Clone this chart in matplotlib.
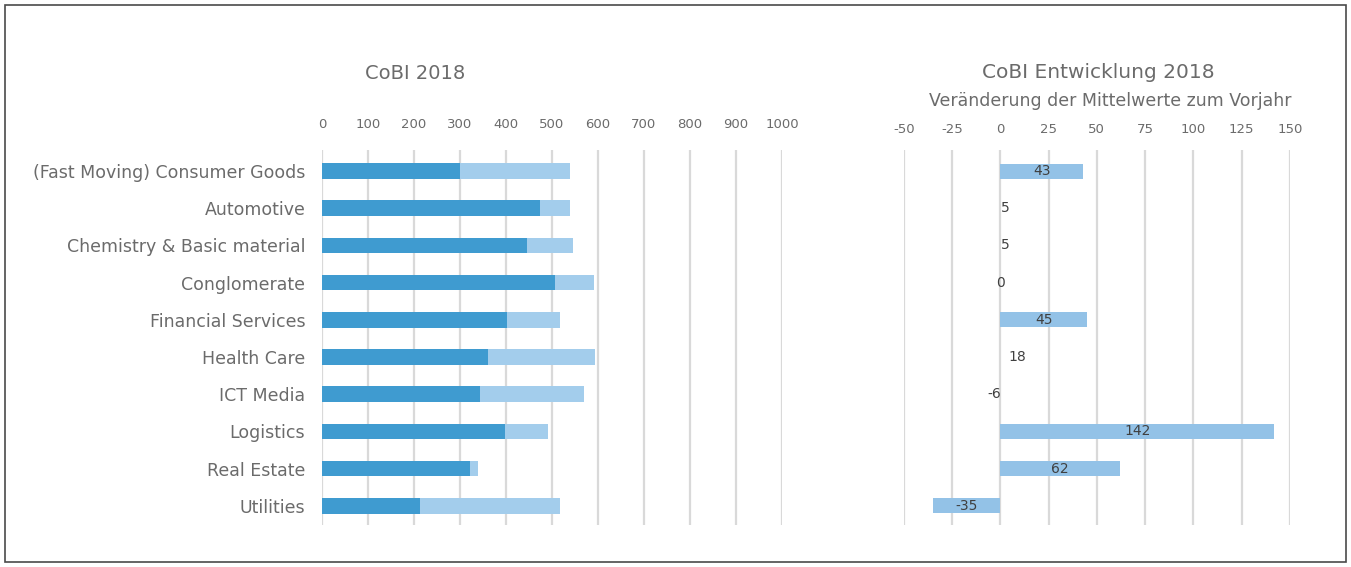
import matplotlib
matplotlib.use("Agg")

import matplotlib.pyplot as plt
from matplotlib.patches import Rectangle

plt.rcParams["axes.unicode_minus"] = False

# ── Daten ──────────────────────────────────────────────────────────
branchen = [
    "(Fast Moving) Consumer Goods",
    "Automotive",
    "Chemistry & Basic material",
    "Conglomerate",
    "Financial Services",
    "Health Care",
    "ICT Media",
    "Logistics",
    "Real Estate",
    "Utilities",
]
cobi_kern = [300, 474, 446, 506, 402, 360, 343, 398, 322, 213]
cobi_gesamt = [540, 540, 545, 592, 517, 594, 570, 491, 340, 518]
cobi_ticks = [0, 100, 200, 300, 400, 500, 600, 700, 800, 900, 1000]

veraenderung = [43, 5, 5, 0, 45, 18, -6, 142, 62, -35]
mit_balken = [True, False, False, False, True, False, False, True, True, True]
veraenderung_ticks = [-50, -25, 0, 25, 50, 75, 100, 125, 150]

GRAU = "#6b6b6b"
GRID = "#d9d9d9"
DUNKEL = "#3f9bd0"
HELL = "#a3cdec"
RECHTS = "#93c2e7"

fig = plt.figure(figsize=(13.51, 5.67), dpi=100)
fig.patches.append(Rectangle((0.004, 0.008), 0.992, 0.984, transform=fig.transFigure,
                             fill=False, edgecolor="#4a4a4a", linewidth=1.2))

y = list(range(len(branchen)))

# ── CoBI 2018 ──────────────────────────────────────────────────────
ax1 = fig.add_axes([0.2383, 0.074, 0.3405, 0.661])
ax1.barh(y, cobi_gesamt, height=0.42, color=HELL, zorder=2)
ax1.barh(y, cobi_kern, height=0.42, color=DUNKEL, zorder=3)
ax1.set_xlim(0, 1000)
ax1.set_ylim(9.52, -0.56)
ax1.set_xticks(cobi_ticks)
ax1.set_yticks(y)
ax1.set_yticklabels(branchen, fontsize=12.5, color=GRAU)
ax1.xaxis.tick_top()
ax1.tick_params(axis="x", labelsize=9.5, colors=GRAU, length=0, pad=14)
ax1.tick_params(axis="y", length=0, pad=12)
ax1.grid(axis="x", color=GRID, linewidth=1.6, zorder=0)
ax1.set_axisbelow(True)
for s in ax1.spines.values():
    s.set_visible(False)
fig.text(0.307, 0.871, "CoBI 2018", ha="center", va="center", fontsize=14, color=GRAU)

# ── CoBI Entwicklung 2018 ──────────────────────────────────────────
ax2 = fig.add_axes([0.669, 0.074, 0.2857, 0.661])
for yi, v, zeigen in zip(y, veraenderung, mit_balken):
    if zeigen:
        ax2.barh(yi, v, height=0.4, color=RECHTS, zorder=2)
    ax2.text(v / 2, yi, f"{v}", ha="center", va="center", fontsize=10,
             color="#404040", zorder=4)
ax2.set_xlim(-50, 150)
ax2.set_ylim(9.52, -0.56)
ax2.set_xticks(veraenderung_ticks)
ax2.set_yticks([])
ax2.xaxis.tick_top()
ax2.tick_params(axis="x", labelsize=9.5, colors=GRAU, length=0, pad=10)
ax2.grid(axis="x", color=GRID, linewidth=1.6, zorder=0)
ax2.set_axisbelow(True)
for s in ax2.spines.values():
    s.set_visible(False)
fig.text(0.8127, 0.873, "CoBI Entwicklung 2018", ha="center", va="center",
         fontsize=14.5, color=GRAU)
fig.text(0.8216, 0.822, "Veränderung der Mittelwerte zum Vorjahr", ha="center",
         va="center", fontsize=12.5, color=GRAU)

fig.savefig("out.png", dpi=100)
